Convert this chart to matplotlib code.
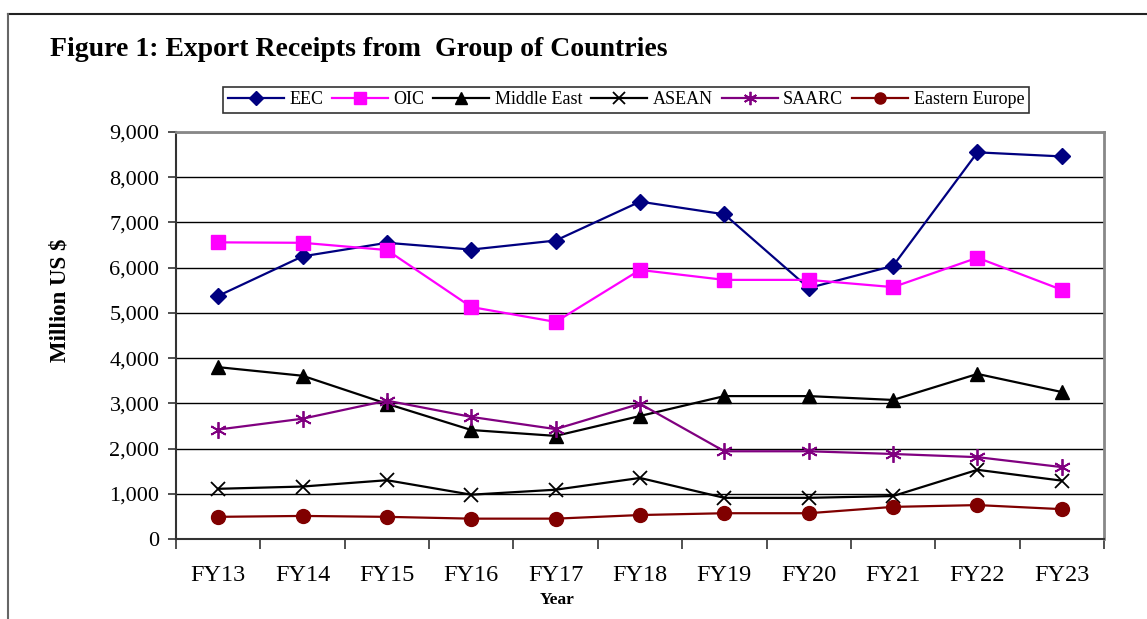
import numpy as np
import matplotlib.pyplot as plt
from matplotlib.lines import Line2D

# Export receipts by group of countries (million US $)
years = ['FY13', 'FY14', 'FY15', 'FY16', 'FY17', 'FY18', 'FY19', 'FY20', 'FY21', 'FY22', 'FY23']
eec = [5376, 6250, 6550, 6400, 6600, 7460, 7180, 5550, 6040, 8550, 8460]
oic = [6560, 6550, 6390, 5130, 4800, 5950, 5730, 5730, 5570, 6220, 5510]
middle_east = [3800, 3610, 2990, 2410, 2280, 2720, 3160, 3160, 3075, 3650, 3250]
asean = [1110, 1160, 1300, 980, 1090, 1350, 910, 910, 950, 1530, 1290]
saarc = [2420, 2660, 3060, 2700, 2430, 2990, 1940, 1940, 1880, 1810, 1590]
eastern_europe = [490, 510, 490, 450, 450, 530, 570, 570, 710, 750, 660]

plt.rcParams['font.family'] = ['Liberation Serif', 'DejaVu Serif']

W, H = 1147, 619
fig = plt.figure(figsize=(W / 100, H / 100), dpi=100)
ax = fig.add_axes([176 / W, 1 - 539 / H, (1104 - 176) / W, (539 - 132) / H])

x = np.arange(len(years))
lw = 1.6
ax.plot(x, eec, color='#000080', lw=lw, marker='D', ms=8.5, label='EEC')
ax.plot(x, oic, color='#FF00FF', lw=lw, marker='s', ms=10, label='OIC')
ax.plot(x, middle_east, color='black', lw=lw, marker='^', ms=10.5, label='Middle East')
ax.plot(x, asean, color='black', lw=lw, marker='x', ms=10, mew=1.3, label='ASEAN')
ax.plot(x, saarc, color='#800080', lw=lw, marker=(6, 2, 0), ms=12, mew=1.3, label='SAARC')
ax.plot(x, eastern_europe, color='#800000', lw=lw, marker='o', ms=10, label='Eastern Europe')

ax.set_xlim(-0.5, len(years) - 0.5)
ax.set_ylim(0, 9000)
ax.set_yticks(range(0, 9001, 1000))
ax.set_yticklabels([f'{v:,}' for v in range(0, 9001, 1000)], fontsize=16)
ax.yaxis.grid(True, color='black', lw=1)
ax.set_axisbelow(True)

# category labels centred, ticks on boundaries
ax.set_xticks(x)
ax.set_xticklabels(years, fontsize=17.5)
ax.tick_params(axis='x', length=0, pad=19)
ax.set_xticks(np.arange(-0.5, len(years)), minor=True)
ax.tick_params(axis='x', which='minor', length=7, direction='out', width=1.2, color='#333333')
ax.tick_params(axis='y', length=6, direction='out', width=1.2, color='#333333', pad=6)

for s in ['top', 'right']:
    ax.spines[s].set_color('#888888')
    ax.spines[s].set_linewidth(2)
for s in ['left', 'bottom']:
    ax.spines[s].set_color('#333333')
    ax.spines[s].set_linewidth(1.5)

ax.set_xlabel('Year', fontsize=12.5, fontweight='bold')
ax.xaxis.set_label_coords((557 - 176) / 928, (539 - 592) / 407)
ax.set_ylabel('Million US $', fontsize=16.5, fontweight='bold')
ax.yaxis.set_label_coords((70 - 176) / 928, (539 - 300) / 407)

fig.text(50 / W, 1 - 50 / H, 'Figure 1: Export Receipts from  Group of Countries',
         fontsize=20, fontweight='bold', va='center', ha='left')

leg = fig.legend(loc='center', bbox_to_anchor=(626 / W, 1 - 100 / H), ncol=6,
                 fontsize=13, frameon=True, fancybox=False, edgecolor='black',
                 handlelength=3.1, handletextpad=0.3, columnspacing=0.5,
                 borderpad=0.25, markerscale=0.8)
leg.get_frame().set_linewidth(1.2)

# outer frame of the figure panel
fig.add_artist(Line2D([8 / W, 1.0], [1 - 14 / H, 1 - 14 / H], transform=fig.transFigure,
                      color='#222222', lw=1.5))
fig.add_artist(Line2D([8 / W, 8 / W], [0, 1 - 14 / H], transform=fig.transFigure,
                      color='#666666', lw=1.5))

fig.savefig('out.png', dpi=100)
